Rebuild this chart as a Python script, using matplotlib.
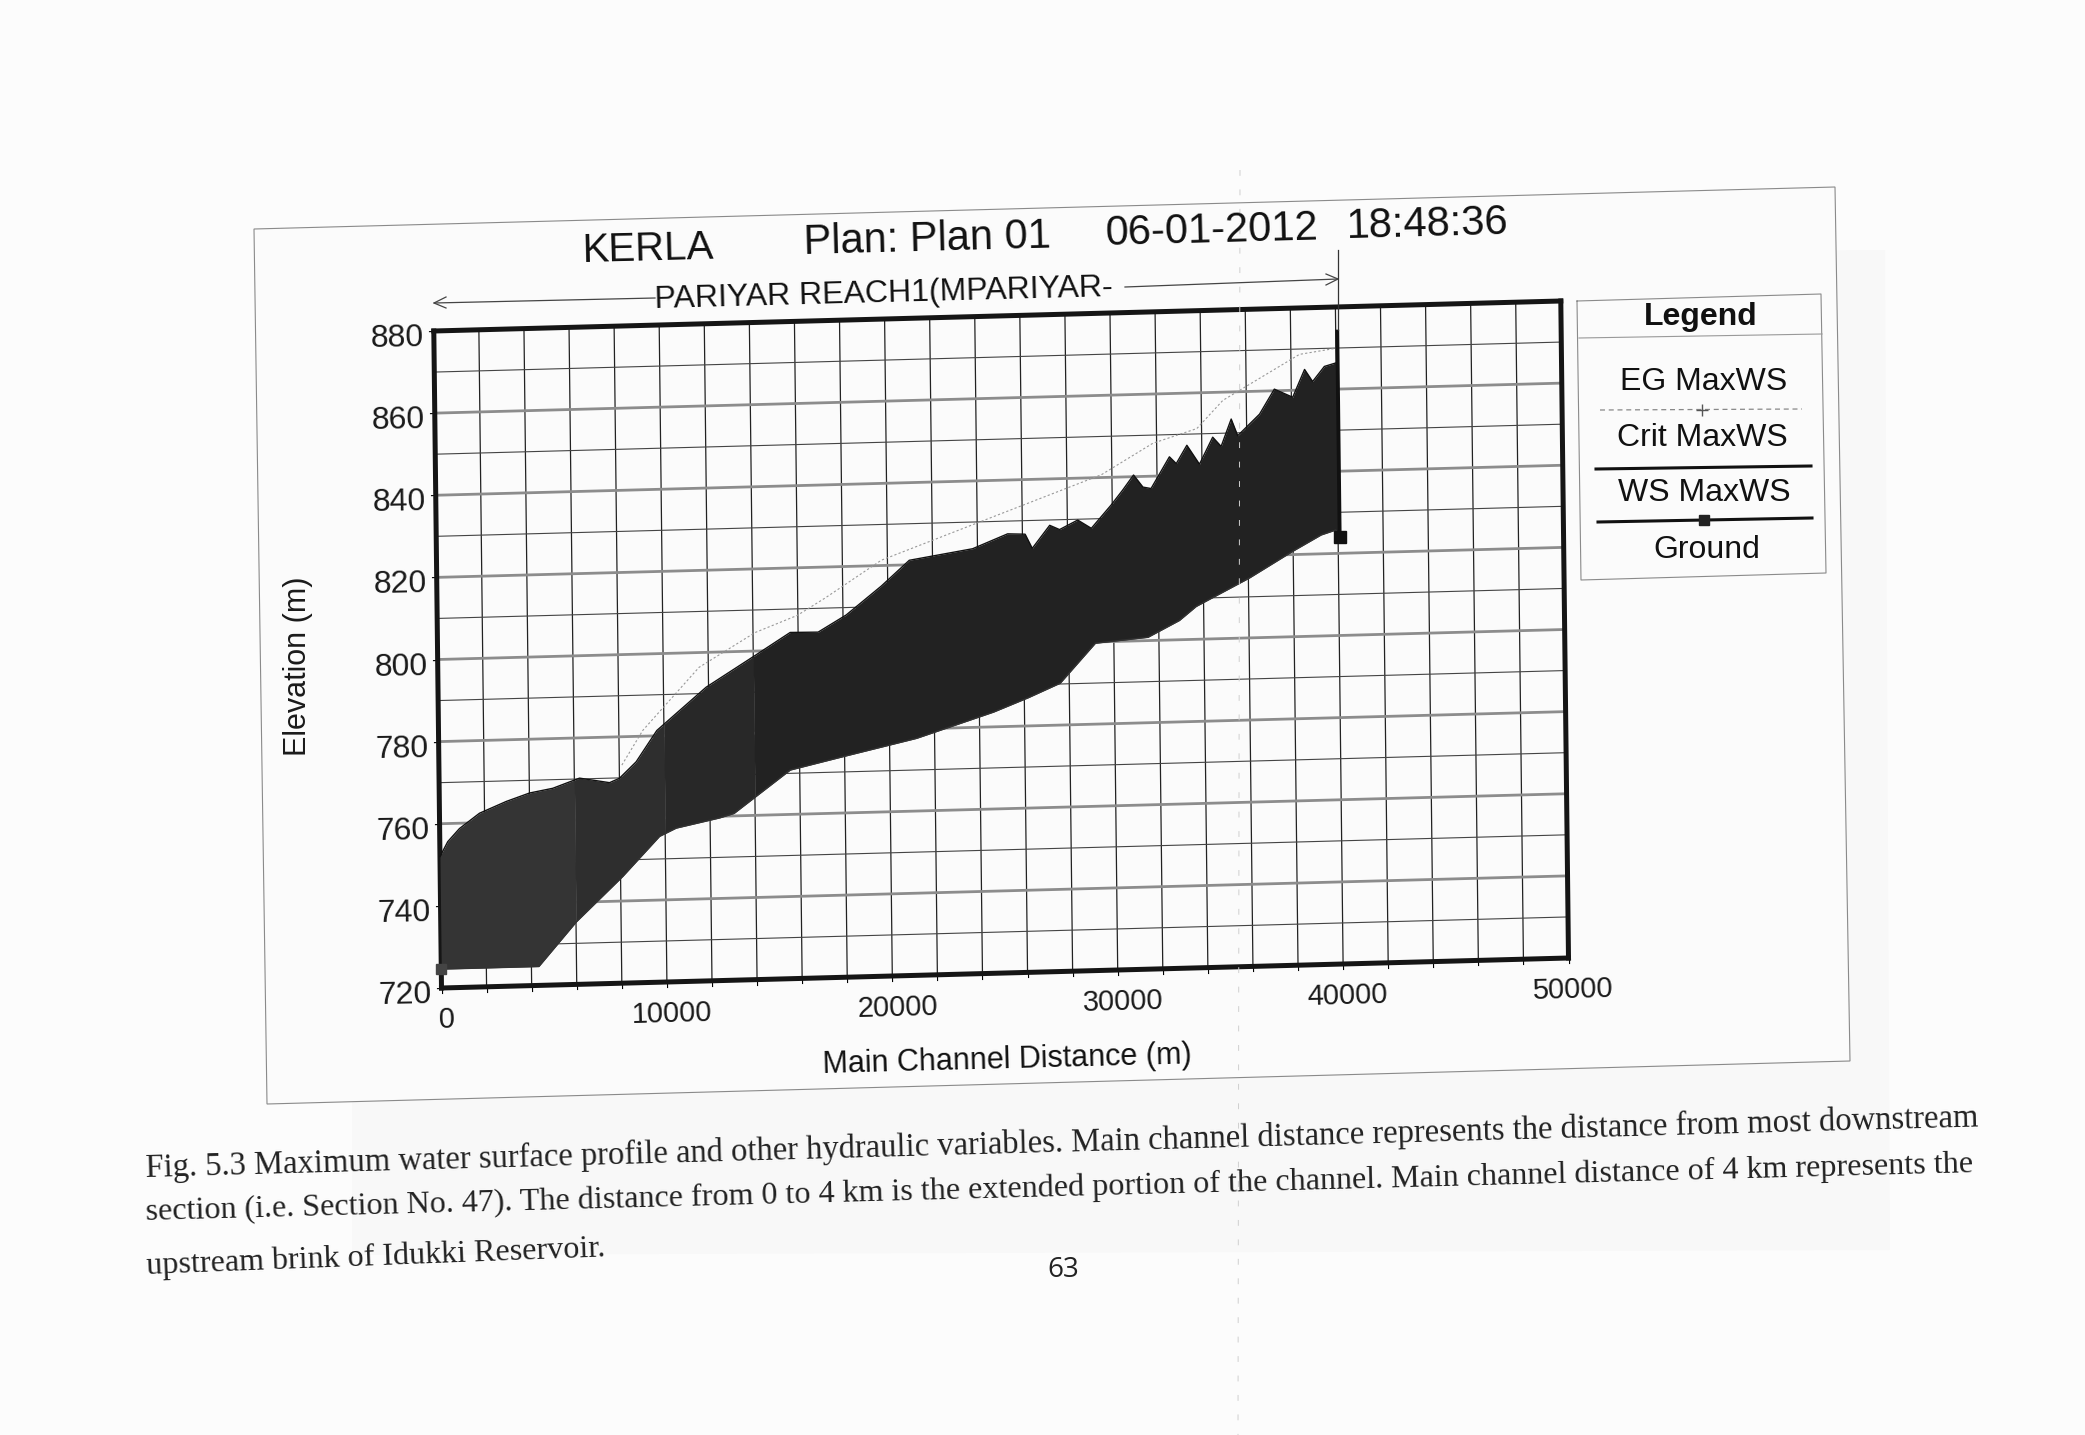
import numpy as np
import matplotlib
matplotlib.use("Agg")
import matplotlib.pyplot as plt
from matplotlib.lines import Line2D
from matplotlib.patches import Polygon
from matplotlib.transforms import Affine2D
from mpl_toolkits.axisartist import floating_axes
from mpl_toolkits.axisartist.grid_finder import FixedLocator

plt.rcParams['font.family'] = ['Liberation Sans', 'DejaVu Sans']

W, H = 2085, 1435

# Water surface (top edge of the black band)
ws_x = [0, 355, 880, 1775, 2970, 4005, 5040, 6230, 7560, 8000, 8750, 9685, 11890, 14075,
        15650, 16890, 18145, 19715, 20970, 23785, 25345, 26120, 26430, 27215, 27650,
        28460, 29060, 29960, 30470, 30960, 31370, 31730, 32560, 32860, 33340, 33890,
        34490, 34860, 35320, 35600, 36580, 37250, 38060, 38600, 38950, 39480, 40070]
ws_y = [752.0, 755.6, 758.7, 762.3, 765.0, 766.9, 767.9, 770.2, 768.9, 769.9, 773.8, 781.3,
        791.5, 798.9, 804.3, 804.2, 808.2, 815.0, 821.1, 823.5, 826.9, 826.7, 823.2, 828.7,
        827.6, 829.8, 827.7, 833.3, 836.8, 840.4, 837.4, 837.0, 844.6, 842.9, 847.3, 842.6,
        849.1, 846.8, 853.4, 849.3, 854.4, 860.4, 858.3, 865.0, 862.0, 865.6, 866.5]

# Ground (bottom edge of the black band)
ground_x = [0, 4330, 6010, 8100, 9750, 10490, 12420, 13065, 15580, 18075, 21200, 24630, 26190,
            27600, 29180, 31515, 32920, 33670, 36050, 37980, 39250, 39900, 40070]
ground_y = [724.6, 724.6, 735.2, 746.0, 755.5, 757.4, 759.6, 760.6, 770.8, 773.9, 777.7, 783.6,
            786.9, 790.2, 799.7, 800.8, 804.7, 808.0, 814.6, 820.8, 824.6, 825.7, 824.0]

# Faint energy grade line showing above the band
eg_x = [8115, 9060, 11590, 14090, 15970, 17230, 19730, 29540, 31830, 33790, 34960, 38380, 40070]
eg_y = [773.1, 781.4, 796.4, 804.5, 808.4, 812.5, 821.3, 840.7, 848.0, 851.3, 858.0, 868.7, 870.0]

end_x = [40070, 40070]
end_y = [824.0, 874.0]

# the band prints lighter at the downstream end
band_breaks = [0, 6000, 10000, 14000, 40070]
band_colors = ['#343434', '#2e2e2e', '#282828', '#222222']

x_ticks = list(range(0, 50001, 2000))
y_grid = list(range(720, 881, 10))
y_ticks = list(range(720, 881, 20))
x_labels = list(range(0, 50001, 10000))

legend_names = ["EG MaxWS", "Crit MaxWS", "WS MaxWS", "Ground"]

caption = [
    "Fig. 5.3 Maximum water surface profile and other hydraulic variables. Main channel distance represents the distance from most downstream",
    "section (i.e. Section No. 47). The distance from 0 to 4 km is the extended portion of the channel. Main channel distance of 4 km represents the",
    "upstream brink of Idukki Reservoir.",
]


def fx(x):
    return x / W


def fy(y):
    return 1 - y / H


def page_line(xs, ys, **kw):
    fig.add_artist(Line2D([fx(v) for v in xs], [fy(v) for v in ys], **kw))


def page_text(x, y, s, size, rot=1.5, **kw):
    fig.text(fx(x), fy(y), s, fontsize=size, rotation=rot, rotation_mode='anchor',
             ha=kw.pop('ha', 'center'), va=kw.pop('va', 'center'), **kw)


fig = plt.figure(figsize=(W / 100, H / 100), dpi=100, facecolor='#fcfcfc')

# outer frame of the pasted chart and the grey scan area
fig.add_artist(Polygon([[fx(352), fy(260)], [fx(1885), fy(250)], [fx(1890), fy(1250)], [fx(352), fy(1255)]],
                       closed=True, fc='#f8f8f8', ec='none', transform=fig.transFigure, zorder=-3))
fig.add_artist(Polygon([[fx(254), fy(229)], [fx(1835), fy(187)], [fx(1850), fy(1061)], [fx(267), fy(1104)]],
                       closed=True, fc='#fbfbfb', ec='#8a8a8a', lw=0.8, transform=fig.transFigure, zorder=-2))

# data -> page pixels, the scan is slightly rotated
x0, y0 = 441.5, H - 988.0
tr = Affine2D.from_values(1127 / 50000, 30 / 50000, -7.7 / 160, 657 / 160,
                          x0 - 720 * (-7.7 / 160), y0 - 720 * (657 / 160))

helper = floating_axes.GridHelperCurveLinear(
    tr, extremes=(0, 50000, 720, 880),
    grid_locator1=FixedLocator(x_ticks), grid_locator2=FixedLocator(y_ticks))

ax = fig.add_axes([0, 0, 1, 1], axes_class=floating_axes.FloatingAxes, grid_helper=helper)
ax.patch.set_visible(False)
aux = ax.get_aux_axes(tr)

for v in x_ticks:
    aux.plot([v, v], [720, 880], color='#222222', lw=0.9, zorder=1)
for v in y_grid:
    if v % 20 == 0:
        aux.plot([0, 50000], [v, v], color='#8c8c8c', lw=2.0, zorder=1)
    else:
        aux.plot([0, 50000], [v, v], color='#444444', lw=0.8, zorder=1)

aux.plot(eg_x, eg_y, color='#999999', lw=0.8, ls=(0, (2, 2)), zorder=2)

xs = np.array(sorted(set(ws_x + ground_x + band_breaks)))
upper = np.interp(xs, ws_x, ws_y)
lower = np.interp(xs, ground_x, ground_y)
for i, col in enumerate(band_colors):
    part = (xs >= band_breaks[i]) & (xs <= band_breaks[i + 1])
    aux.fill_between(xs[part], lower[part], upper[part], color=col, lw=0, zorder=3)
aux.plot(ws_x, ws_y, color='#111111', lw=1.0, zorder=4)
aux.plot(ground_x, ground_y, color='#333333', lw=1.0, zorder=4)
aux.plot(end_x, end_y, color='#111111', lw=2.8, zorder=4)
aux.plot(ground_x[-1:], ground_y[-1:], 's', color='#111111', ms=9, zorder=5)
aux.plot(ground_x[:1], ground_y[:1], 's', color='#444444', ms=7, zorder=5)

for side in ['left', 'right', 'top', 'bottom']:
    ax.axis[side].line.set_linewidth(3.6)
    ax.axis[side].line.set_color('#151515')
    ax.axis[side].major_ticklabels.set_visible(False)
for side in ['right', 'top']:
    ax.axis[side].major_ticks.set_visible(False)
for side in ['left', 'bottom']:
    ax.axis[side].major_ticks.set_tick_out(True)
    ax.axis[side].major_ticks.set_ticksize(4)

# tick labels sit a little off their ticks in the scan
for v in y_ticks:
    aux.annotate(str(v), (0, v), xytext=(-7, -5.5), textcoords='offset points', fontsize=23,
                 ha='right', va='center', color='#1a1a1a', annotation_clip=False, rotation=1)
for v in x_labels:
    aux.annotate(str(v), (v, 720), xytext=(3.5, -23), textcoords='offset points', fontsize=21,
                 ha='center', va='center', color='#1a1a1a', annotation_clip=False, rotation=1.5)

ax.set_xlim(0, W)
ax.set_ylim(0, H)

# title row
page_text(648, 249, "KERLA", 29, color='#111111')
page_text(927, 240, "Plan: Plan 01", 30, color='#111111')
page_text(1212, 231, "06-01-2012", 30, color='#111111')
page_text(1428, 225, "18:48:36", 30, color='#111111')
page_text(884, 294, "PARIYAR REACH1(MPARIYAR-", 23, color='#111111')

# reach arrow
page_line([434, 655], [303, 298], color='#444444', lw=0.9)
page_line([1125, 1338], [287, 279], color='#444444', lw=0.9)
page_line([446, 434, 446], [297, 303, 308], color='#444444', lw=0.9)
page_line([1326, 1338, 1326], [274, 279, 285], color='#444444', lw=0.9)
page_line([1338, 1338], [250, 330], color='#333333', lw=0.9)

page_text(298, 666, "Elevation (m)", 22, rot=90, color='#1a1a1a')
page_text(1007, 1060, "Main Channel Distance (m)", 22, color='#111111')

# legend box
page_line([1577, 1821, 1826, 1581, 1577], [301, 294, 573, 580, 301], color='#8a8a8a', lw=0.8)
page_line([1579, 1822], [338, 334], color='#999999', lw=0.8)
page_text(1701, 317, "Legend", 23, rot=0, weight='bold', color='#111111')
page_text(1704, 382, legend_names[0], 23, rot=0, color='#111111')
page_line([1600, 1802], [410, 409], color='#888888', lw=0.9, ls=(0, (4, 3)))
page_line([1702], [410], color='#555555', marker='+', ms=8, lw=0)
page_text(1702, 438, legend_names[1], 23, rot=0, color='#111111')
page_line([1596, 1811], [469, 466], color='#111111', lw=2.2)
page_text(1704, 493, legend_names[2], 23, rot=0, color='#111111')
page_line([1598, 1812], [522, 518], color='#111111', lw=2.2)
page_line([1704], [520], color='#222222', marker='s', ms=7, lw=0)
page_text(1707, 550, legend_names[3], 23, rot=0, color='#111111')

# caption under the chart
page_text(146, 1168, caption[0], 23.5, rot=1.58, ha='left', family='Liberation Serif', color='#222222')
page_text(146, 1212, caption[1], 23.15, rot=1.5, ha='left', family='Liberation Serif', color='#222222')
page_text(146, 1266, caption[2], 23.15, rot=2.2, ha='left', family='Liberation Serif', color='#222222')
page_text(1063, 1270, "63", 20, rot=0, family='Open Sans', color='#222222')

# fold mark of the scan
page_line([1240, 1238], [170, 1435], color='#cfcfcf', lw=0.7, ls=(0, (6, 14)))

fig.savefig("out.png", dpi=100, facecolor=fig.get_facecolor())
